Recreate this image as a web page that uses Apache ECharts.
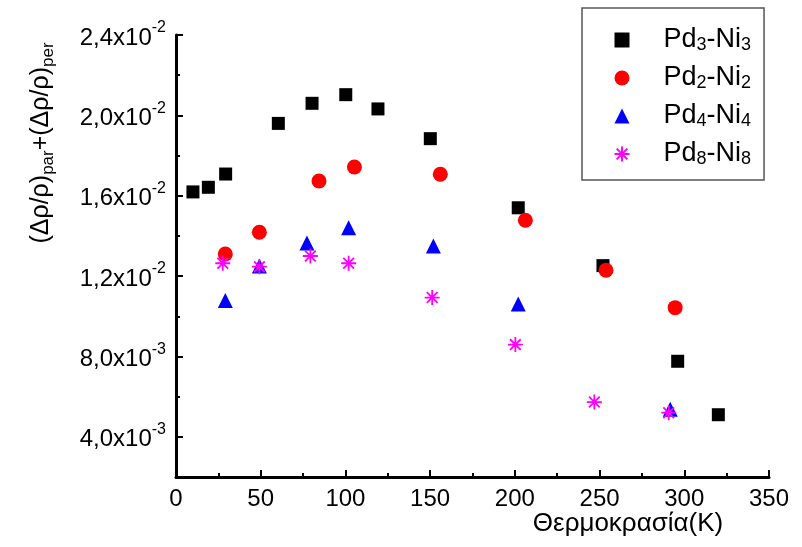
<!DOCTYPE html>
<html><head><meta charset="utf-8">
<script src="https://cdn.jsdelivr.net/npm/echarts@6/dist/echarts.min.js"></script>
<style>html,body{margin:0;padding:0;background:#fff}#c{width:802px;height:547px}</style>
</head><body><div id="c"></div><script>
// ---- data ----
const seriesNames = ['Pd3-Ni3', 'Pd2-Ni2', 'Pd4-Ni4', 'Pd8-Ni8'];
const seriesSubs = ['3', '2', '4', '8'];
const pd3ni3 = [[10.0,0.01619],[19.1,0.01642],[29.3,0.01708],[60.4,0.0196],[80.3,0.0206],[100.2,0.02103],[119.2,0.02032],[150.1,0.01884],[202,0.0154],[252,0.01252],[296.1,0.00776],[320.1,0.0051]];
const pd2ni2 = [[29.1,0.0131],[49.2,0.01418],[84.4,0.01673],[105.3,0.01743],[156,0.01707],[206.2,0.01478],[253.8,0.01229],[294.6,0.01043]];
const pd4ni4 = [[29.1,0.01078],[49.2,0.0125],[77.3,0.01365],[101.9,0.01441],[151.9,0.0135],[202,0.01061],[291.7,0.00537]];
const pd8ni8 = [[27.6,0.01264],[49.2,0.01247],[79.3,0.0130],[101.9,0.01264],[151.2,0.01093],[200.3,0.00859],[246.9,0.00573],[290.8,0.0052]];
const yMajorTicks = [0.004, 0.008, 0.012, 0.016, 0.020, 0.024];
const yMinorTicks = [0.006, 0.010, 0.014, 0.018, 0.022];
const yTickMantissa = ['4,0', '8,0', '1,2', '1,6', '2,0', '2,4'];
const yTickExponent = ['-3', '-3', '-2', '-2', '-2', '-2'];
const xTitle = 'Θερμοκρασία(K)';

const FONT = 'Arial, "Liberation Sans", sans-serif';
const asterisk = 'path://M7 0L7 14M0 7L14 7M2 2L12 12M12 2L2 12';

function yLabel(v) {
  let idx = yMajorTicks.findIndex(t => Math.abs(t - v) < 1e-9);
  if (idx < 0) return '';
  return '{m|' + yTickMantissa[idx] + 'x10}{s|' + yTickExponent[idx] + '}';
}

const chart = echarts.init(document.getElementById('c'), null, {renderer: 'canvas'});
const colors = ['#000000', '#ff0000', '#0000ff', '#ff00ff'];
const datas = [pd3ni3, pd2ni2, pd4ni4, pd8ni8];
const symbols = ['rect', 'circle', 'triangle', asterisk];
const sizes = [13, 15, 15, 15];

chart.setOption({
  animation: false,
  backgroundColor: '#ffffff',
  grid: {left: 176, right: 33, top: 35, bottom: 70, containLabel: false},
  xAxis: {
    type: 'value', min: 0, max: 350, interval: 50,
    axisLine: {show: true, onZero: false, lineStyle: {color: '#000', width: 3}},
    axisTick: {show: true, inside: true, length: 7, lineStyle: {color: '#000', width: 2}},
    minorTick: {show: true, splitNumber: 2, length: 4, lineStyle: {color: '#000', width: 2}},
    splitLine: {show: false},
    axisLabel: {fontFamily: FONT, fontSize: 24, color: '#000', margin: 10}
  },
  yAxis: [{
    type: 'value', min: 0.002, max: 0.024,
    axisLine: {show: true, onZero: false, lineStyle: {color: '#000', width: 3}},
    axisTick: {show: true, inside: true, length: 7, customValues: yMajorTicks, lineStyle: {color: '#000', width: 2}},
    splitLine: {show: false},
    axisLabel: {
      customValues: yMajorTicks, margin: 10, formatter: yLabel,
      rich: {
        m: {fontFamily: FONT, fontSize: 24, color: '#000', lineHeight: 30, verticalAlign: 'bottom'},
        s: {fontFamily: FONT, fontSize: 16, color: '#000', lineHeight: 30, verticalAlign: 'top'}
      }
    }
  }, {
    type: 'value', min: 0.002, max: 0.024, position: 'left',
    axisLine: {show: false},
    axisTick: {show: true, inside: true, length: 4, customValues: yMinorTicks, lineStyle: {color: '#000', width: 2}},
    axisLabel: {show: false},
    splitLine: {show: false}
  }],
  legend: {
    orient: 'vertical', left: 582, top: 8,
    padding: [18, 13, 12, 30],
    itemGap: 10,
    itemWidth: 15, itemHeight: 15,
    borderColor: '#555', borderWidth: 1.5,
    data: seriesNames,
    formatter: function (name) {
      const i = seriesNames.indexOf(name);
      const sub = seriesSubs[i];
      return '{a|Pd}{b|' + sub + '}{a|-Ni}{b|' + sub + '}';
    },
    textStyle: {
      padding: [0, 0, 0, 29],
      rich: {
        a: {fontFamily: FONT, fontSize: 27, color: '#000', lineHeight: 28, verticalAlign: 'top'},
        b: {fontFamily: FONT, fontSize: 18, color: '#000', lineHeight: 6, verticalAlign: 'bottom'}
      }
    }
  },
  graphic: [{
    type: 'text', x: 43, y: 143, rotation: Math.PI / 2,
    style: {
      text: '{n|(Δρ/ρ)}{b|par}{n|+(Δρ/ρ)}{b|per}',
      align: 'center', verticalAlign: 'middle',
      rich: {
        n: {fontFamily: FONT, fontSize: 25, fill: '#000', lineHeight: 28, verticalAlign: 'top'},
        b: {fontFamily: FONT, fontSize: 17, fill: '#000', lineHeight: 12, verticalAlign: 'bottom'}
      }
    }
  }, {
    type: 'text', x: 628, y: 524,
    style: {text: xTitle, align: 'center', verticalAlign: 'middle', fontFamily: FONT, fontSize: 26, fill: '#000'}
  }],
  series: seriesNames.map((n, i) => ({
    name: n, type: 'scatter', data: datas[i],
    symbol: symbols[i], symbolSize: sizes[i],
    itemStyle: i === 3 ? {color: 'none', borderColor: colors[i], borderWidth: 1.8, opacity: 1} : {color: colors[i], opacity: 1},
    z: 2 + i
  }))
});
</script></body></html>
